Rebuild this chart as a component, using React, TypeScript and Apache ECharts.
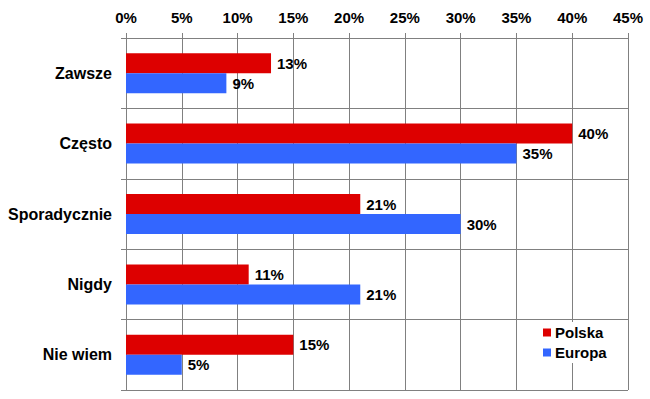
import React, { useEffect, useRef } from "react";
import * as echarts from "echarts";

const categories = ["Zawsze", "Często", "Sporadycznie", "Nigdy", "Nie wiem"];
const polska = [13, 40, 21, 11, 15];
const europa = [9, 35, 30, 21, 5];
const seriesNames = ["Polska", "Europa"];

export default function App() {
  const ref = useRef<HTMLDivElement>(null);
  useEffect(() => {
    if (!ref.current) return;
    const chart = echarts.init(ref.current, null, { renderer: "svg" });
    const font = "'Liberation Sans', Arial, sans-serif";
    const labelStyle = {
      show: true,
      position: "right" as const,
      distance: 6,
      formatter: "{c}%",
      color: "#000",
      fontWeight: "bold" as const,
      fontSize: 15,
      fontFamily: font,
    };
    chart.setOption({
      animation: false,
      backgroundColor: "#fff",
      grid: { left: 126, right: 22, top: 38, bottom: 9, containLabel: false },
      legend: {
        data: seriesNames,
        orient: "vertical",
        left: 539,
        top: 322,
        icon: "rect",
        itemWidth: 8,
        itemHeight: 8,
        itemGap: 5,
        padding: [3, 6, 3, 4],
        backgroundColor: "#fff",
        textStyle: { color: "#000", fontWeight: "bold", fontSize: 15, fontFamily: font, padding: [0, 0, 0, -1] },
      },
      xAxis: {
        type: "value",
        position: "top",
        min: 0,
        max: 45,
        interval: 5,
        axisLine: { show: true, lineStyle: { color: "#808080" } },
        axisTick: { show: true, length: 5, lineStyle: { color: "#808080" } },
        splitLine: { show: true, lineStyle: { color: "#808080", width: 1 } },
        axisLabel: {
          formatter: "{value}%",
          color: "#000",
          fontWeight: "bold",
          fontSize: 15,
          fontFamily: font,
          margin: 13,
        },
      },
      yAxis: {
        type: "category",
        data: categories,
        inverse: true,
        axisLine: { show: true, lineStyle: { color: "#808080" } },
        axisTick: { show: true, length: 5, lineStyle: { color: "#808080" } },
        splitLine: { show: true, lineStyle: { color: "#808080", width: 1 } },
        axisLabel: {
          color: "#000",
          fontWeight: "bold",
          fontSize: 16,
          fontFamily: font,
          margin: 14,
        },
      },
      series: [
        {
          name: seriesNames[0],
          type: "bar",
          data: polska,
          itemStyle: { color: "#DD0000" },
          barWidth: 20,
          barGap: "0%",
          label: labelStyle,
        },
        {
          name: seriesNames[1],
          type: "bar",
          data: europa,
          itemStyle: { color: "#3366FF" },
          barWidth: 20,
          barGap: "0%",
          label: labelStyle,
        },
      ],
    });
    return () => chart.dispose();
  }, []);
  return <div ref={ref} style={{ width: 650, height: 399, position: "absolute", left: 0, top: 0 }} />;
}
